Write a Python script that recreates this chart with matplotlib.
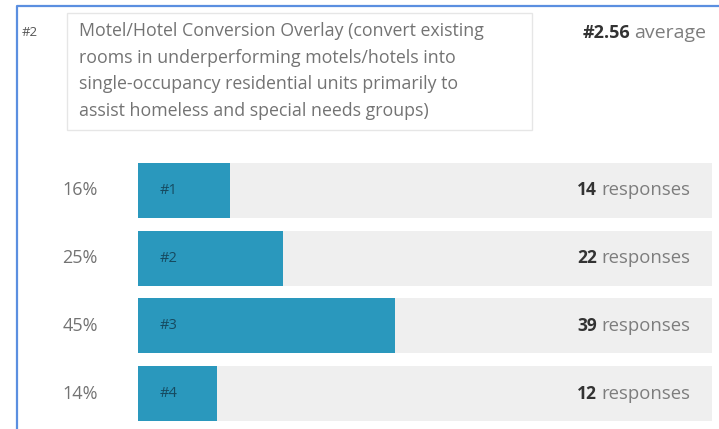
import matplotlib.pyplot as plt
from matplotlib.patches import Rectangle

plt.rcParams['font.family'] = ['Open Sans', 'DejaVu Sans']

# survey data
ranks = ['#1', '#2', '#3', '#4']
responses = [14, 22, 39, 12]
question = ("Motel/Hotel Conversion Overlay (convert existing\n"
            "rooms in underperforming motels/hotels into\n"
            "single-occupancy residential units primarily to\n"
            "assist homeless and special needs groups)")
question_no = '#2'

total = sum(responses)
shares = [r / total for r in responses]
average = sum((i + 1) * r for i, r in enumerate(responses)) / total

W, H = 719, 429
fig = plt.figure(figsize=(W / 100, H / 100), dpi=100)

# background layer in pixel coords for the frame and header
bg = fig.add_axes([0, 0, 1, 1])
bg.set_xlim(0, W)
bg.set_ylim(H, 0)
bg.axis('off')
bg.plot([17, 17, W], [H, 6, 6], color='#5b8fe0', lw=1.6, solid_capstyle='butt')
bg.add_patch(Rectangle((67, 13), 465, 117, fill=False, ec='#e6e6e6', lw=1))
bg.text(22, 33, question_no, fontsize=9.5, color='#555555', va='center')
bg.text(79, 71, question, fontsize=12.8, color='#737373', va='center',
        linespacing=1.6)
bg.text(630, 33, f'#{average:.2f}', fontsize=13, fontweight='bold',
        color='#333333', va='center', ha='right')
bg.text(634, 33, 'average', fontsize=14, color='#7d7d7d', va='center')

# bars
ax = fig.add_axes([138 / W, 1 - 427.4 / H, 574 / W, 270.8 / H])
y = list(range(len(ranks)))
ax.barh(y, [1.0] * len(ranks), height=0.81, color='#efefef')
ax.barh(y, shares, height=0.81, color='#2a98bd')
ax.set_xlim(0, 1)
ax.set_ylim(len(ranks) - 0.5, -0.5)
ax.axis('off')

for i in y:
    ax.text(-0.101, i, f'{shares[i] * 100:.0f}%', ha='center', va='center',
            fontsize=13, color='#737373', clip_on=False)
    ax.text(0.038, i, ranks[i], ha='left', va='center', fontsize=10.5,
            color='#164a60')
    ax.text(0.7997, i, str(responses[i]), ha='right', va='center',
            fontsize=12.5, fontweight='bold', color='#333333')
    ax.text(0.8066, i, 'responses', ha='left', va='center',
            fontsize=13.3, color='#7d7d7d')

fig.savefig('out.png', dpi=100)
